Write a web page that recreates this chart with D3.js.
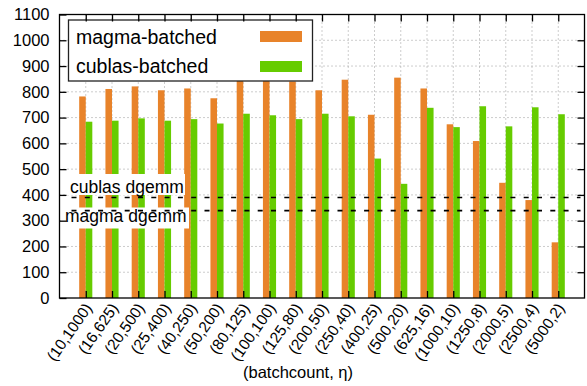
<!DOCTYPE html>
<html>
<head>
<meta charset="utf-8">
<script src="https://cdn.jsdelivr.net/npm/d3@7"></script>
<style>
	body { margin: 0; background: #fff; }
	text { font-family: "Liberation Sans", Arial, Helvetica, sans-serif; fill: #000; }
</style>
</head>
<body>
<svg id="chart" width="587" height="386"></svg>
<script>
const categories = ["(10,1000)", "(16,625)", "(20,500)", "(25,400)", "(40,250)", "(50,200)",
	"(80,125)", "(100,100)", "(125,80)", "(200,50)", "(250,40)", "(400,25)", "(500,20)",
	"(625,16)", "(1000,10)", "(1250,8)", "(2000,5)", "(2500,4)", "(5000,2)"];
const magmaBatched = [782, 811, 821, 806, 813, 775, 847, 849, 840, 806, 847, 711, 855, 813, 674, 609, 447, 380, 216];
const cublasBatched = [684, 688, 697, 688, 694, 677, 715, 709, 694, 715, 705, 541, 443, 738, 663, 744, 666, 740, 713];
const refLines = [{ name: "cublas dgemm", value: 390 }, { name: "magma dgemm", value: 339 }];
const yTicks = d3.range(0, 1101, 100);

const svg = d3.select("#chart");
const mLeft = 59.5, mRight = 584.5, mTop = 14.5, mBottom = 298;

const x = d3.scaleLinear().domain([-1, 19]).range([mLeft, mRight]);
const y = d3.scaleLinear().domain([0, 1100]).range([mBottom, mTop]);

// grid
const grid = svg.append("g").classed("grid", true)
	.attr("stroke", "#9a9a9a")
	.attr("stroke-width", 1)
	.attr("stroke-dasharray", "1,3");
grid.selectAll("line.h")
	.data(yTicks.slice(1, -1)).enter()
	.append("line")
	.attr("x1", mLeft).attr("x2", mRight)
	.attr("y1", d => y(d)).attr("y2", d => y(d));
grid.selectAll("line.v")
	.data(categories).enter()
	.append("line")
	.attr("x1", (d, i) => x(i)).attr("x2", (d, i) => x(i))
	.attr("y1", mTop).attr("y2", mBottom);

// bars
const bw = x(0.25) - x(0);
const series = [
	{ values: magmaBatched, color: "#e8832a", offset: -0.25 },
	{ values: cublasBatched, color: "#66cc00", offset: 0 }
];
series.forEach(s => {
	svg.append("g").selectAll("rect")
		.data(s.values).enter()
		.append("rect")
		.attr("x", (d, i) => x(i + s.offset))
		.attr("width", bw)
		.attr("y", d => y(d))
		.attr("height", d => y(0) - y(d))
		.attr("fill", s.color);
});

// reference labels with white boxes
const labelBoxes = [
	{ x: 66, y: 174, w: 119, h: 21, tx: 70, ty: 192.5 },
	{ x: 62, y: 207.5, w: 127, h: 21, tx: 65, ty: 222 }
];
refLines.forEach((r, k) => {
	const b = labelBoxes[k];
	svg.append("rect").attr("x", b.x).attr("y", b.y).attr("width", b.w).attr("height", b.h).attr("fill", "#fff");
	svg.append("text").attr("x", b.tx).attr("y", b.ty)
		.attr("font-size", 17.5)
		.text(r.name);
});

svg.append("g").selectAll("line")
	.data(refLines).enter()
	.append("line")
	.attr("x1", mLeft + 12).attr("x2", mRight - 4)
	.attr("y1", d => y(d.value)).attr("y2", d => y(d.value))
	.attr("stroke", "#000")
	.attr("stroke-width", 1.6)
	.attr("stroke-dasharray", "5,8.3");

// legend
const legend = svg.append("g");
legend.append("rect")
	.attr("x", 68.5).attr("y", 20).attr("width", 244).attr("height", 61)
	.attr("fill", "#fff").attr("stroke", "#222").attr("stroke-width", 1.3);
const legendItems = [
	{ name: "magma-batched", color: "#e8832a" },
	{ name: "cublas-batched", color: "#66cc00" }
];
legend.selectAll("text")
	.data(legendItems).enter()
	.append("text")
	.attr("x", 76)
	.attr("y", (d, i) => 43.5 + i * 29.5)
	.attr("font-size", 19.5)
	.text(d => d.name);
legend.selectAll("rect.sample")
	.data(legendItems).enter()
	.append("rect")
	.attr("x", 260).attr("width", 42)
	.attr("y", (d, i) => 31 + i * 30)
	.attr("height", 11)
	.attr("fill", d => d.color);

// frame and ticks
svg.append("rect")
	.attr("x", mLeft).attr("y", mTop).attr("width", mRight - mLeft).attr("height", mBottom - mTop)
	.attr("fill", "none").attr("stroke", "#000").attr("stroke-width", 1.3);

const yAxisL = d3.axisLeft(y).tickValues(yTicks).tickFormat(d3.format("d"))
	.tickSizeInner(-7).tickSizeOuter(0).tickPadding(10);
const gL = svg.append("g").attr("transform", `translate(${mLeft},0)`).call(yAxisL);
const yAxisR = d3.axisRight(y).tickValues(yTicks.slice(1, -1)).tickSizeInner(-7).tickSizeOuter(0).tickFormat("");
const gR = svg.append("g").attr("transform", `translate(${mRight},0)`).call(yAxisR);
const xIdx = d3.range(0, categories.length);
const xAxisB = d3.axisBottom(x).tickValues(xIdx).tickSizeInner(-7).tickSizeOuter(0).tickFormat("");
const gB = svg.append("g").attr("transform", `translate(0,${mBottom})`).call(xAxisB);
const xAxisT = d3.axisTop(x).tickValues(xIdx).tickSizeInner(-7).tickSizeOuter(0).tickFormat("");
const gT = svg.append("g").attr("transform", `translate(0,${mTop})`).call(xAxisT);
[gL, gR, gB, gT].forEach(g => {
	g.select(".domain").remove();
	g.selectAll(".tick line").attr("stroke", "#000").attr("stroke-width", 1.3);
});
gL.selectAll(".tick text")
	.attr("font-size", 16.5)
	.attr("font-family", "Liberation Sans, Arial, sans-serif")
	.attr("fill", "#000");

// rotated category labels
svg.append("g").selectAll("text")
	.data(categories).enter()
	.append("text")
	.attr("text-anchor", "end")
	.attr("font-size", 15.5)
	.attr("transform", (d, i) => `translate(${x(i) + 7},${mBottom + 10}) rotate(-55)`)
	.text(d => d);

svg.append("text")
	.attr("x", 298).attr("y", 378)
	.attr("text-anchor", "middle")
	.attr("font-size", 16.5)
	.text("(batchcount, η)");
</script>
</body>
</html>
